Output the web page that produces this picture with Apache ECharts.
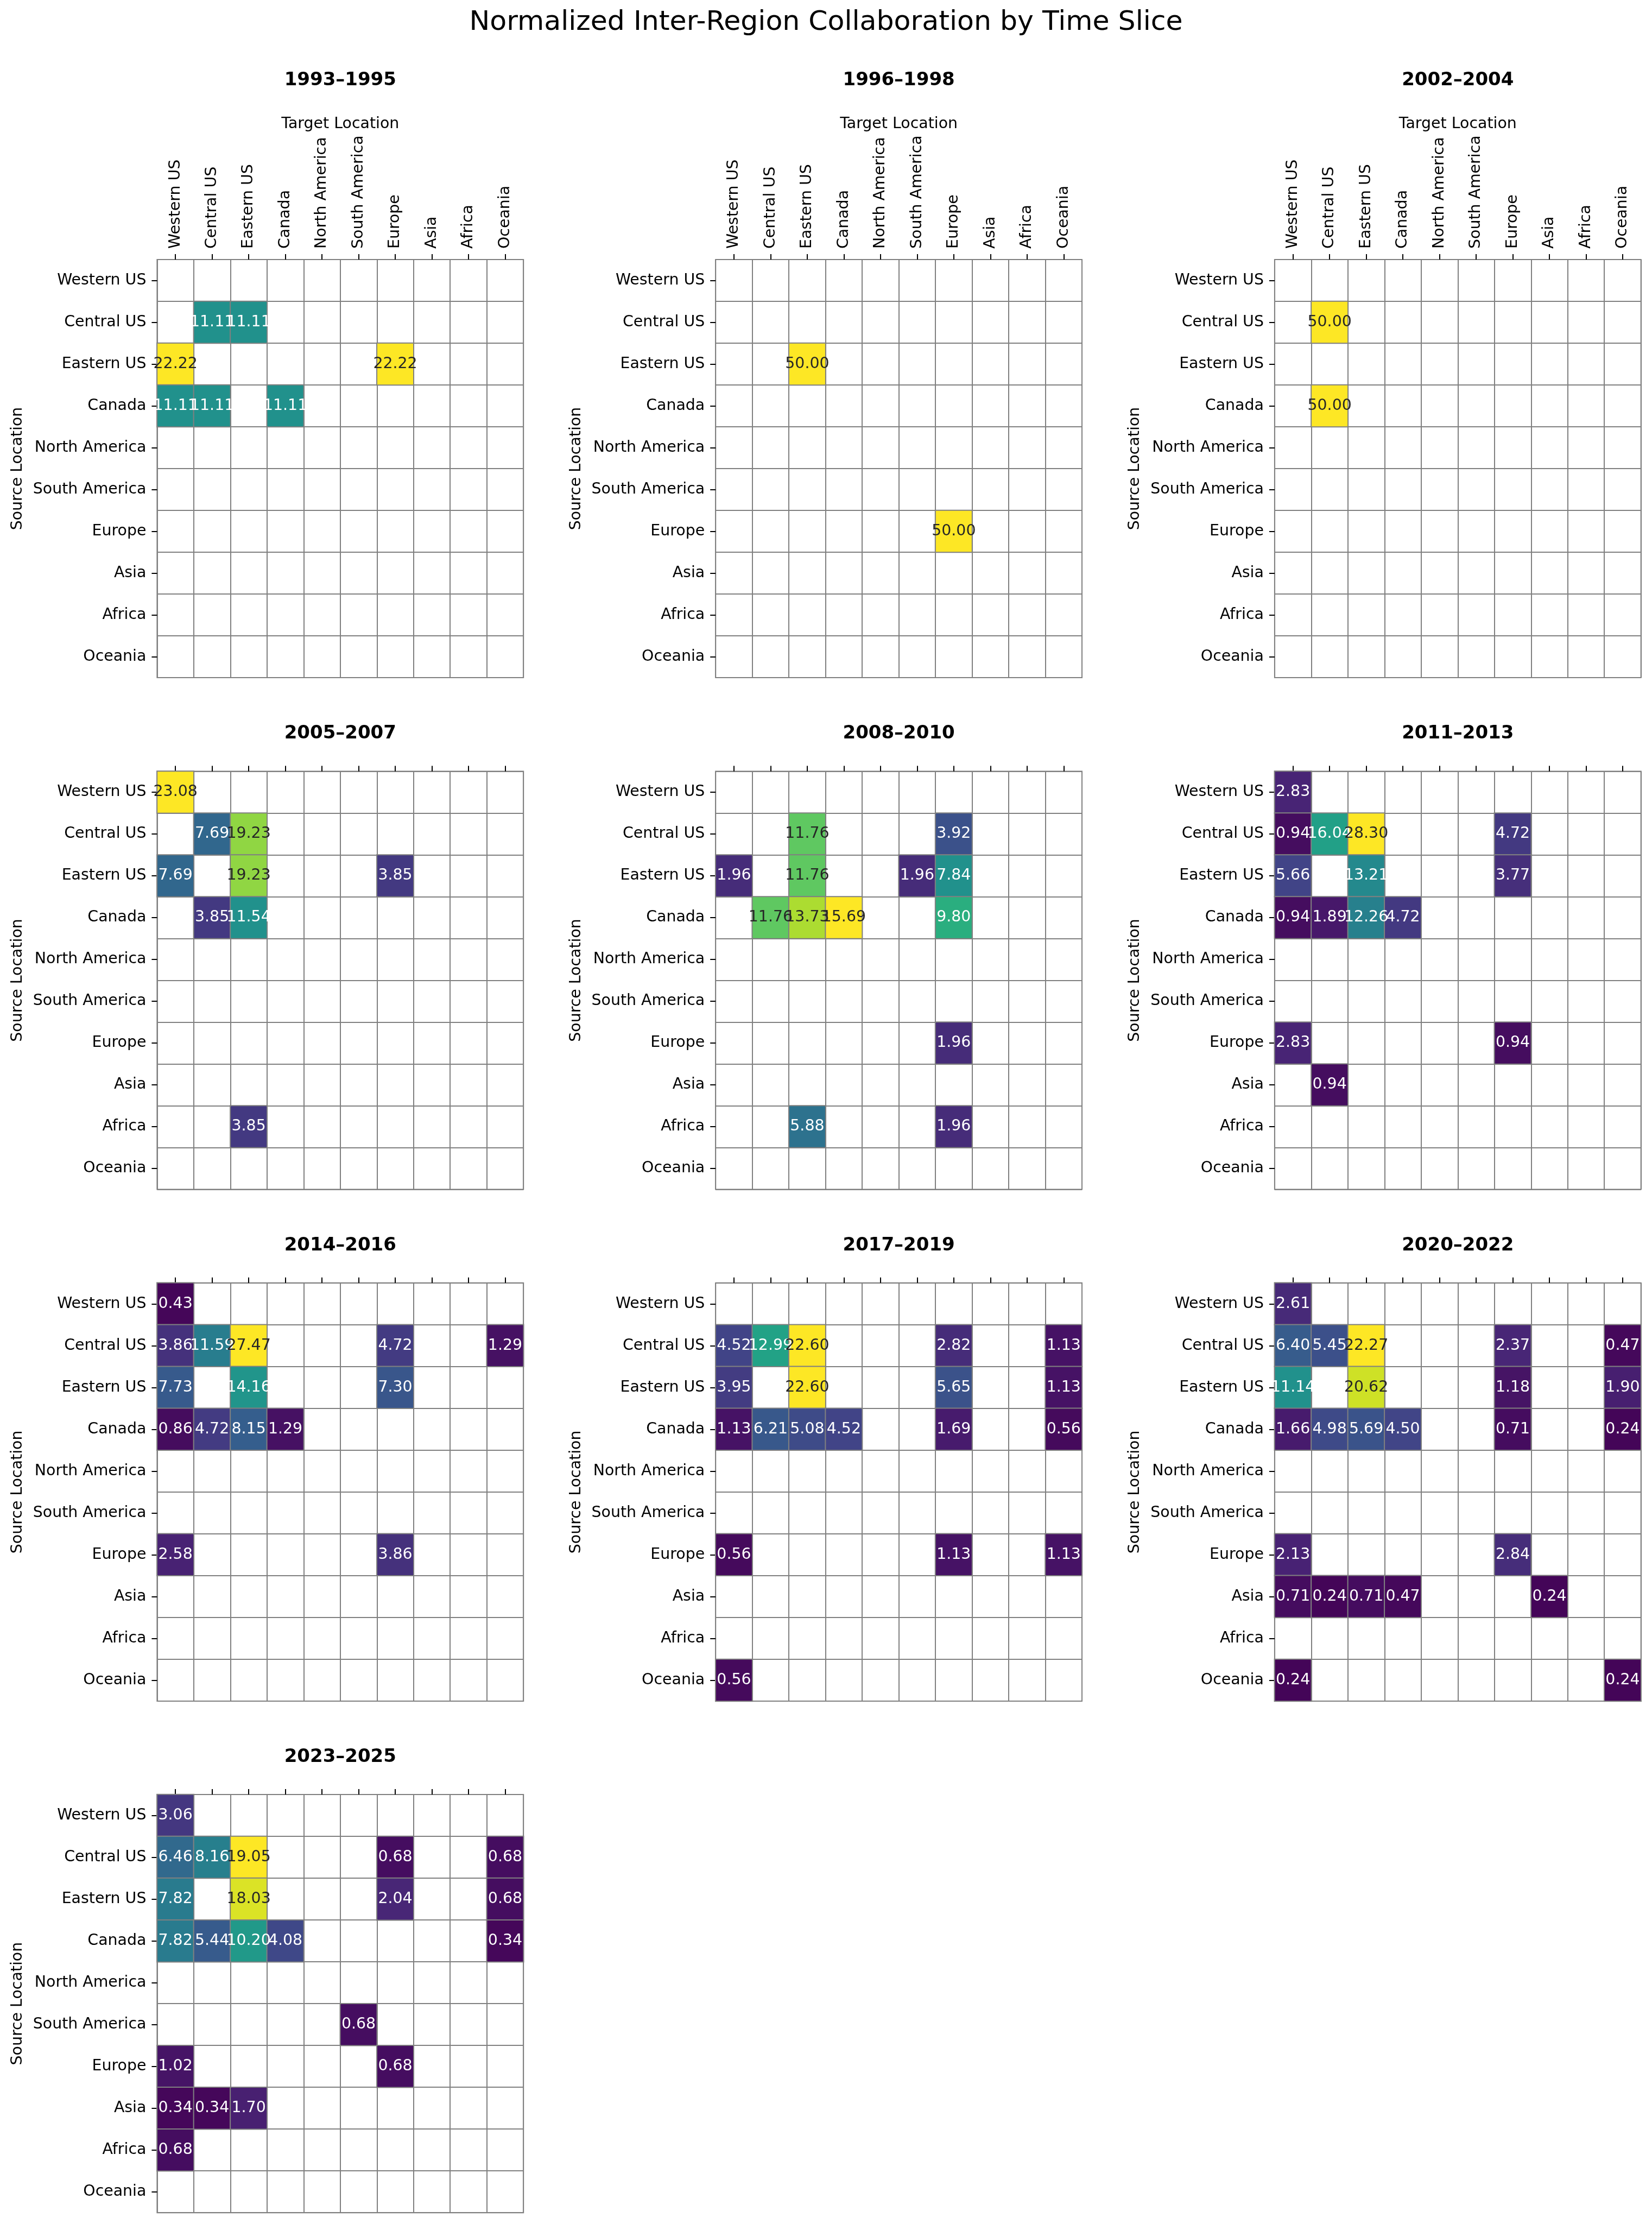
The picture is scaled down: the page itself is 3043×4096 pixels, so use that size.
<!DOCTYPE html>
<html><head><meta charset="utf-8">
<script src="https://cdn.jsdelivr.net/npm/echarts@6/dist/echarts.min.js"></script>
<style>html,body{margin:0;padding:0;background:#fff}#c{width:3043px;height:4096px}</style>
</head><body><div id="c"></div>
<script>
// ---------- data ----------
const locations = ['Western US','Central US','Eastern US','Canada','North America','South America','Europe','Asia','Africa','Oceania'];
const timeSlices = ['1993–1995','1996–1998','2002–2004','2005–2007','2008–2010','2011–2013','2014–2016','2017–2019','2020–2022','2023–2025'];
const mainTitle = 'Normalized Inter-Region Collaboration by Time Slice';
const xAxisTitle = 'Target Location';
const yAxisTitle = 'Source Location';
// rows = source, columns = target (order of `locations`)
const v1993_1995 = [
 [0,0,0,0,0,0,0,0,0,0],
 [0,11.11,11.11,0,0,0,0,0,0,0],
 [22.22,0,0,0,0,0,22.22,0,0,0],
 [11.11,11.11,0,11.11,0,0,0,0,0,0],
 [0,0,0,0,0,0,0,0,0,0],
 [0,0,0,0,0,0,0,0,0,0],
 [0,0,0,0,0,0,0,0,0,0],
 [0,0,0,0,0,0,0,0,0,0],
 [0,0,0,0,0,0,0,0,0,0],
 [0,0,0,0,0,0,0,0,0,0]];
const v1996_1998 = [
 [0,0,0,0,0,0,0,0,0,0],
 [0,0,0,0,0,0,0,0,0,0],
 [0,0,50.00,0,0,0,0,0,0,0],
 [0,0,0,0,0,0,0,0,0,0],
 [0,0,0,0,0,0,0,0,0,0],
 [0,0,0,0,0,0,0,0,0,0],
 [0,0,0,0,0,0,50.00,0,0,0],
 [0,0,0,0,0,0,0,0,0,0],
 [0,0,0,0,0,0,0,0,0,0],
 [0,0,0,0,0,0,0,0,0,0]];
const v2002_2004 = [
 [0,0,0,0,0,0,0,0,0,0],
 [0,50.00,0,0,0,0,0,0,0,0],
 [0,0,0,0,0,0,0,0,0,0],
 [0,50.00,0,0,0,0,0,0,0,0],
 [0,0,0,0,0,0,0,0,0,0],
 [0,0,0,0,0,0,0,0,0,0],
 [0,0,0,0,0,0,0,0,0,0],
 [0,0,0,0,0,0,0,0,0,0],
 [0,0,0,0,0,0,0,0,0,0],
 [0,0,0,0,0,0,0,0,0,0]];
const v2005_2007 = [
 [23.08,0,0,0,0,0,0,0,0,0],
 [0,7.69,19.23,0,0,0,0,0,0,0],
 [7.69,0,19.23,0,0,0,3.85,0,0,0],
 [0,3.85,11.54,0,0,0,0,0,0,0],
 [0,0,0,0,0,0,0,0,0,0],
 [0,0,0,0,0,0,0,0,0,0],
 [0,0,0,0,0,0,0,0,0,0],
 [0,0,0,0,0,0,0,0,0,0],
 [0,0,3.85,0,0,0,0,0,0,0],
 [0,0,0,0,0,0,0,0,0,0]];
const v2008_2010 = [
 [0,0,0,0,0,0,0,0,0,0],
 [0,0,11.76,0,0,0,3.92,0,0,0],
 [1.96,0,11.76,0,0,1.96,7.84,0,0,0],
 [0,11.76,13.73,15.69,0,0,9.80,0,0,0],
 [0,0,0,0,0,0,0,0,0,0],
 [0,0,0,0,0,0,0,0,0,0],
 [0,0,0,0,0,0,1.96,0,0,0],
 [0,0,0,0,0,0,0,0,0,0],
 [0,0,5.88,0,0,0,1.96,0,0,0],
 [0,0,0,0,0,0,0,0,0,0]];
const v2011_2013 = [
 [2.83,0,0,0,0,0,0,0,0,0],
 [0.94,16.04,28.30,0,0,0,4.72,0,0,0],
 [5.66,0,13.21,0,0,0,3.77,0,0,0],
 [0.94,1.89,12.26,4.72,0,0,0,0,0,0],
 [0,0,0,0,0,0,0,0,0,0],
 [0,0,0,0,0,0,0,0,0,0],
 [2.83,0,0,0,0,0,0.94,0,0,0],
 [0,0.94,0,0,0,0,0,0,0,0],
 [0,0,0,0,0,0,0,0,0,0],
 [0,0,0,0,0,0,0,0,0,0]];
const v2014_2016 = [
 [0.43,0,0,0,0,0,0,0,0,0],
 [3.86,11.59,27.47,0,0,0,4.72,0,0,1.29],
 [7.73,0,14.16,0,0,0,7.30,0,0,0],
 [0.86,4.72,8.15,1.29,0,0,0,0,0,0],
 [0,0,0,0,0,0,0,0,0,0],
 [0,0,0,0,0,0,0,0,0,0],
 [2.58,0,0,0,0,0,3.86,0,0,0],
 [0,0,0,0,0,0,0,0,0,0],
 [0,0,0,0,0,0,0,0,0,0],
 [0,0,0,0,0,0,0,0,0,0]];
const v2017_2019 = [
 [0,0,0,0,0,0,0,0,0,0],
 [4.52,12.99,22.60,0,0,0,2.82,0,0,1.13],
 [3.95,0,22.60,0,0,0,5.65,0,0,1.13],
 [1.13,6.21,5.08,4.52,0,0,1.69,0,0,0.56],
 [0,0,0,0,0,0,0,0,0,0],
 [0,0,0,0,0,0,0,0,0,0],
 [0.56,0,0,0,0,0,1.13,0,0,1.13],
 [0,0,0,0,0,0,0,0,0,0],
 [0,0,0,0,0,0,0,0,0,0],
 [0.56,0,0,0,0,0,0,0,0,0]];
const v2020_2022 = [
 [2.61,0,0,0,0,0,0,0,0,0],
 [6.40,5.45,22.27,0,0,0,2.37,0,0,0.47],
 [11.14,0,20.62,0,0,0,1.18,0,0,1.90],
 [1.66,4.98,5.69,4.50,0,0,0.71,0,0,0.24],
 [0,0,0,0,0,0,0,0,0,0],
 [0,0,0,0,0,0,0,0,0,0],
 [2.13,0,0,0,0,0,2.84,0,0,0],
 [0.71,0.24,0.71,0.47,0,0,0,0.24,0,0],
 [0,0,0,0,0,0,0,0,0,0],
 [0.24,0,0,0,0,0,0,0,0,0.24]];
const v2023_2025 = [
 [3.06,0,0,0,0,0,0,0,0,0],
 [6.46,8.16,19.05,0,0,0,0.68,0,0,0.68],
 [7.82,0,18.03,0,0,0,2.04,0,0,0.68],
 [7.82,5.44,10.20,4.08,0,0,0,0,0,0.34],
 [0,0,0,0,0,0,0,0,0,0],
 [0,0,0,0,0,0.68,0,0,0,0],
 [1.02,0,0,0,0,0,0.68,0,0,0],
 [0.34,0.34,1.70,0,0,0,0,0,0,0],
 [0.68,0,0,0,0,0,0,0,0,0],
 [0,0,0,0,0,0,0,0,0,0]];
const panelValues = [v1993_1995,v1996_1998,v2002_2004,v2005_2007,v2008_2010,v2011_2013,v2014_2016,v2017_2019,v2020_2022,v2023_2025];

// ---------- style / layout ----------
const FONT = 'DejaVu Sans';
const VIRIDIS = ['#440154','#482475','#414487','#355f8d','#2a788e','#21918c','#22a884','#44bf70','#7ad151','#bddf26','#fde725'];
const GRID_LEFT = [289.4, 1318.2, 2347.9];
const GRID_TOP = [478.0, 1420.4, 2362.8, 3305.1];
const GW = 674.8, GH = 770.1;
const LINE = '#808080';

function hex2rgb(h){return [parseInt(h.slice(1,3),16),parseInt(h.slice(3,5),16),parseInt(h.slice(5,7),16)];}
function viridis(t){
  t = Math.max(0, Math.min(1, t));
  const p = t*(VIRIDIS.length-1), i = Math.min(Math.floor(p), VIRIDIS.length-2), f = p-i;
  const a = hex2rgb(VIRIDIS[i]), b = hex2rgb(VIRIDIS[i+1]);
  return a.map((v,k)=>v+(b[k]-v)*f);
}
function luminance(rgb){
  const c = rgb.map(v=>{v/=255; return v<=0.03928? v/12.92 : Math.pow((v+0.055)/1.055,2.4);});
  return 0.2126*c[0]+0.7152*c[1]+0.0722*c[2];
}

const grids=[], xAxes=[], yAxes=[], series=[], visualMaps=[], graphics=[];
graphics.push({type:'text', x:1521.5, y:41.5, style:{text:mainTitle, font:'50.5px "'+FONT+'"', fill:'#000', textAlign:'center', textVerticalAlign:'middle'}});

panelValues.forEach((mat, i)=>{
  const r = Math.floor(i/3), c = i%3;
  const left = GRID_LEFT[c], top = GRID_TOP[r];
  grids.push({left:left, top:top, width:GW, height:GH, show:true, borderColor:LINE, borderWidth:2, backgroundColor:'#fff', containLabel:false});
  const firstRow = r===0;
  xAxes.push({type:'category', gridIndex:i, position:'top', data:locations,
    axisLine:{show:false},
    axisTick:{show:true, alignWithLabel:true, length:10, lineStyle:{color:'#000', width:2}},
    axisLabel:{show:firstRow, interval:0, rotate:-90, align:'left', verticalAlign:'middle', margin:20, color:'#000', fontSize:28.4, fontFamily:FONT},
    splitLine:{show:true, interval:0, lineStyle:{color:LINE, width:2}}});
  yAxes.push({type:'category', gridIndex:i, inverse:true, data:locations,
    axisLine:{show:false},
    axisTick:{show:true, alignWithLabel:true, length:10, lineStyle:{color:'#000', width:2}},
    axisLabel:{show:true, interval:0, margin:20, color:'#000', fontSize:28.4, fontFamily:FONT},
    splitLine:{show:true, interval:0, lineStyle:{color:LINE, width:2}}});
  let maxV = 0;
  mat.forEach(row=>row.forEach(v=>{ if(v>maxV) maxV=v; }));
  const data = [];
  mat.forEach((row, yi)=>row.forEach((v, xi)=>{
    if(v>0){
      const lum = luminance(viridis(v/maxV));
      data.push({value:[xi, yi, v], label:{color: lum>0.408 ? '#262626' : '#ffffff'}});
    }
  }));
  series.push({type:'heatmap', xAxisIndex:i, yAxisIndex:i, data:data,
    itemStyle:{borderColor:LINE, borderWidth:2},
    label:{show:true, fontSize:28.4, fontFamily:FONT, formatter:p=>p.value[2].toFixed(2)},
    emphasis:{disabled:true}});
  visualMaps.push({type:'continuous', show:false, seriesIndex:i, dimension:2, min:0, max:maxV, inRange:{color:VIRIDIS}});
  const cx = left + GW/2;
  const ty = firstRow ? 148.4 : top - 68.8;
  graphics.push({type:'text', x:cx, y:ty, style:{text:timeSlices[i], font:'bold 34px "'+FONT+'"', fill:'#000', textAlign:'center', textVerticalAlign:'middle'}});
  if(firstRow){
    graphics.push({type:'text', x:cx, y:228.8, style:{text:xAxisTitle, font:'28.4px "'+FONT+'"', fill:'#000', textAlign:'center', textVerticalAlign:'middle'}});
  }
  graphics.push({type:'text', x:left-257, y:top+GH/2, rotation:Math.PI/2, style:{text:yAxisTitle, font:'28.4px "'+FONT+'"', fill:'#000', textAlign:'center', textVerticalAlign:'middle'}});
});

const chart = echarts.init(document.getElementById('c'), null, {renderer:'canvas'});
chart.setOption({
  animation:false,
  backgroundColor:'#fff',
  textStyle:{fontFamily:FONT},
  grid:grids, xAxis:xAxes, yAxis:yAxes, visualMap:visualMaps, series:series,
  graphic:graphics
});
</script></body></html>
